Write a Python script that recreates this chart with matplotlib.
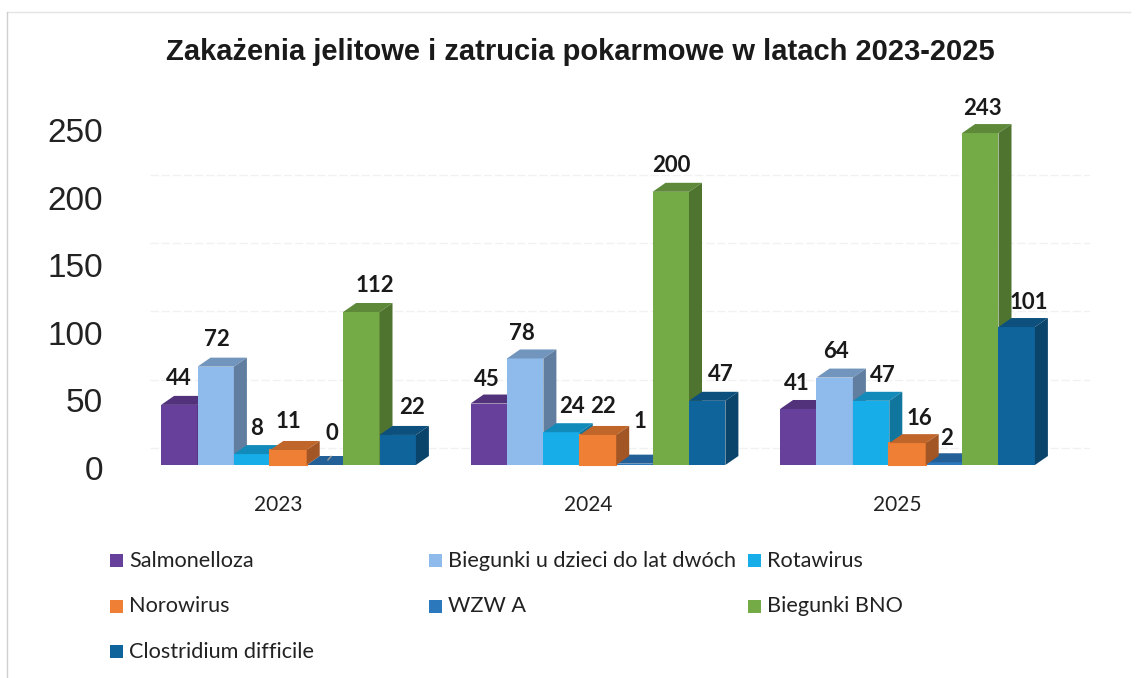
import matplotlib
matplotlib.use('Agg')
import matplotlib.pyplot as plt
from matplotlib.colors import to_rgb
from matplotlib.patches import Rectangle

years = ['2023', '2024', '2025']
series = ['Salmonelloza', 'Biegunki u dzieci do lat dwóch', 'Rotawirus',
          'Norowirus', 'WZW A', 'Biegunki BNO', 'Clostridium difficile']
salmonelloza = [44, 45, 41]
biegunki_dzieci = [72, 78, 64]
rotawirus = [8, 24, 47]
norowirus = [11, 22, 16]
wzw_a = [0, 1, 2]
biegunki_bno = [112, 200, 243]
clostridium = [22, 47, 101]
values = [salmonelloza, biegunki_dzieci, rotawirus, norowirus, wzw_a, biegunki_bno, clostridium]
colors = ['#66409A', '#8FBAEC', '#17ADE9', '#F07F36', '#2C78BD', '#74AB47', '#10649C']
y_ticks = [0, 50, 100, 150, 200, 250]

# label offsets from bar centre / bar top in pixels, one row per year
label_dx = [[0, 1, 5, 0, 7, 14, 14], [-2, -3, 10, 5, 6, 1, 14], [-1, 1, 12, 12, 3, 2, 12]]
label_dy = [[26, 27, 26, 28, 32, 27, 27], [24, 25, 26, 28, 42, 26, 26], [25, 26, 25, 25, 24, 25, 25]]

W, H = 1141, 678
PX_X = 309.5
PX_Y = 1.366
BAR_W = 36.4 / PX_X
DEPTH_X = 13 / PX_X
DEPTH_Y = 9 / PX_Y
WALL_Y = 17 / PX_Y
LABEL_FONT = 'Lato'


def fig_rect(left, top, right, bottom):
    return [left / W, 1 - bottom / H, (right - left) / W, (bottom - top) / H]


def shade(color, k):
    return tuple(c * k for c in to_rgb(color))


fig = plt.figure(figsize=(W / 100, H / 100), dpi=100, facecolor='white')

# axis numbers sit on a slightly different scale than the bars, like the 3D original
ax_ticks = fig.add_axes(fig_rect(110, 130, 1090, 468))
ax_ticks.set_ylim(0, 250)
ax_ticks.set_xticks([])
ax_ticks.set_yticks(y_ticks)
ax_ticks.tick_params(axis='y', length=0, pad=5, labelsize=24, labelcolor='#222222')
for label in ax_ticks.get_yticklabels():
    label.set_family('Liberation Sans')
for s in ax_ticks.spines.values():
    s.set_visible(False)
ax_ticks.patch.set_alpha(0)

ax = fig.add_axes(fig_rect(110, 465 - 250 * PX_Y, 1090, 465))
ax.set_xlim((110 - 288.5) / PX_X, (1090 - 288.5) / PX_X)
ax.set_ylim(0, 250)
ax.patch.set_alpha(0)
for s in ax.spines.values():
    s.set_visible(False)
ax.set_yticks([])
ax.set_xticks([i - 10 / PX_X for i in range(len(years))])
ax.set_xticklabels(years, family=LABEL_FONT, fontsize=15, color='#222222')
ax.tick_params(axis='x', length=0, pad=21.5)

# faint back wall gridlines
for t in y_ticks[:-1]:
    ax.plot([(150 - 288.5) / PX_X, (1090 - 288.5) / PX_X], [t + WALL_Y] * 2, color='#f1f1f1',
            lw=1, ls=(0, (6, 2)), zorder=1)

for s_i, vals in enumerate(values):
    color = colors[s_i]
    # orange boxes overlap their neighbour in the original
    z = 10 + s_i if s_i != 3 else 20
    xs = [g + (s_i - 3) * BAR_W for g in range(len(years))]
    edge = color if s_i == 3 else 'none'
    ax.bar(xs, vals, width=BAR_W, color=color, edgecolor=edge, linewidth=1.5, zorder=z, clip_on=False)
    for g, (x, v) in enumerate(zip(xs, vals)):
        l, r = x - BAR_W / 2, x + BAR_W / 2
        ax.fill([l, l + DEPTH_X, r + DEPTH_X, r], [v, v + DEPTH_Y, v + DEPTH_Y, v],
                color=shade(color, 0.8), zorder=z, clip_on=False, lw=0)
        ax.fill([r, r + DEPTH_X, r + DEPTH_X, r], [0, DEPTH_Y, v + DEPTH_Y, v],
                color=shade(color, 0.68), zorder=z, clip_on=False, lw=0)
        ax.annotate(str(v), (x, v), xytext=(label_dx[g][s_i] * 0.72, label_dy[g][s_i] * 0.72),
                    textcoords='offset points', ha='center', va='center', family=LABEL_FONT,
                    fontweight='bold', fontsize=16, color='#1a1a1a', zorder=40)

# leader line of the zero label
ax.annotate('', xy=((326 - 288.5) / PX_X, 2), xytext=((333 - 288.5) / PX_X, 8),
            arrowprops=dict(arrowstyle='-', color='#999999', lw=1), zorder=41)

fig.text(580 / W, 1 - 51.5 / H, 'Zakażenia jelitowe i zatrucia pokarmowe w latach 2023-2025',
         family='Liberation Sans', fontweight='bold', fontsize=21, ha='center', va='center',
         color='#1a1a1a')

# legend has equal column widths, so it is laid out by hand
for i, name in enumerate(series):
    col, row = i % 3, i // 3
    x = 110 + col * 319
    y = 560 + row * 45.5
    fig.add_artist(Rectangle((x / W, 1 - (y + 7) / H), 13 / W, 13 / H, transform=fig.transFigure,
                             facecolor=colors[i], edgecolor='none'))
    fig.text((x + 19) / W, 1 - (y + 1) / H, name, family=LABEL_FONT, fontsize=15.6, va='center',
             color='#222222')

# scan edges of the page
fig.add_artist(plt.Line2D([8 / W, 1130 / W], [1 - 12 / H] * 2, color='#e4e4e4', lw=1))
fig.add_artist(plt.Line2D([7 / W] * 2, [1 - 12 / H, 0], color='#cfcfcf', lw=1))

fig.savefig('out.png', dpi=100)
